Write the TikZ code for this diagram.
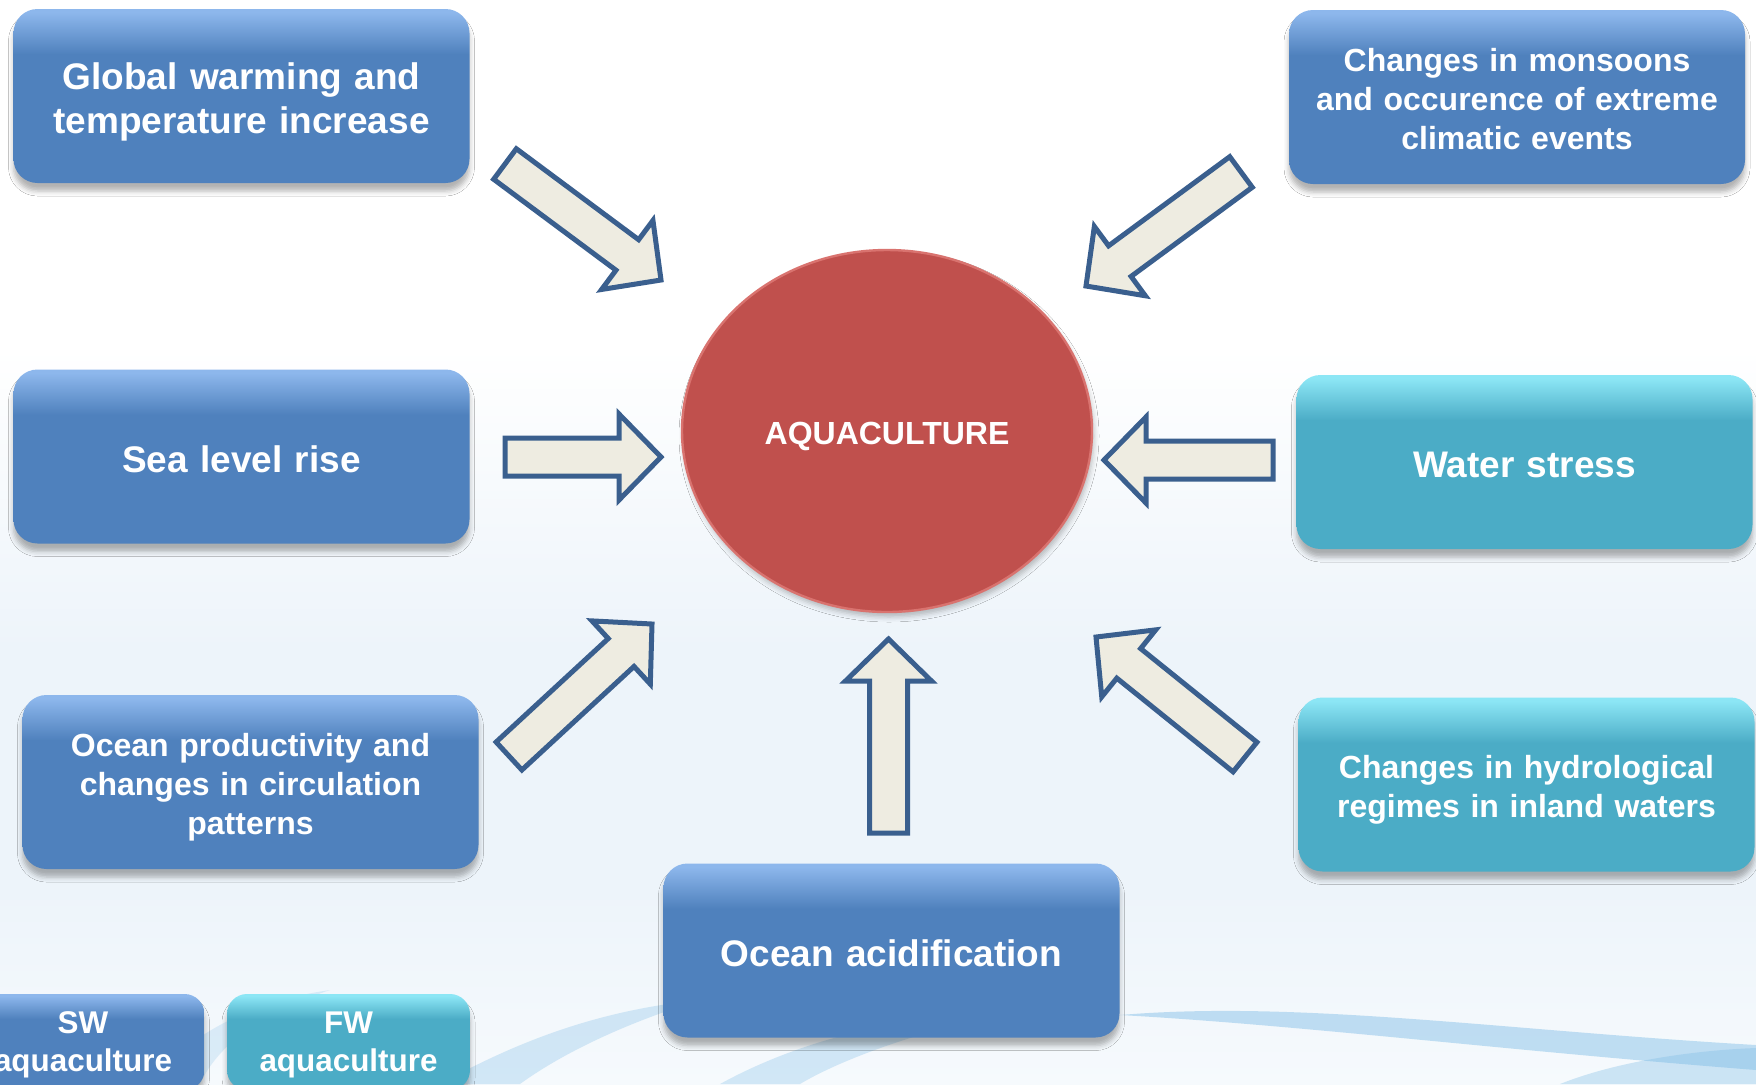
\documentclass[tikz,border=0pt]{standalone}
\usepackage{fontspec}
\setmainfont{Liberation Sans}
\usetikzlibrary{shapes.geometric,calc,shadows.blur}

\definecolor{boxblue}{HTML}{4F81BD}
\definecolor{boxblueL}{HTML}{8DB7EC}
\definecolor{boxteal}{HTML}{4BACC6}
\definecolor{boxtealL}{HTML}{8CE6F5}
\definecolor{circred}{HTML}{C0504D}
\definecolor{circedge}{HTML}{D9736F}
\definecolor{arrfill}{HTML}{EEECE1}
\definecolor{arrline}{HTML}{3A5F8E}
\definecolor{bgblue}{HTML}{EDF4FA}
\definecolor{bgbot}{HTML}{F6FAFD}
\definecolor{swoosh}{HTML}{7DBCE6}

\pgfdeclareverticalshading{blueshade}{100bp}{color(0bp)=(boxblue); color(25bp)=(boxblue);
  color(62bp)=(boxblue); color(74bp)=(boxblueL); color(100bp)=(boxblueL)}
\pgfdeclareverticalshading{tealshade}{100bp}{color(0bp)=(boxteal); color(25bp)=(boxteal);
  color(62bp)=(boxteal); color(74bp)=(boxtealL); color(100bp)=(boxtealL)}
\pgfdeclareverticalshading{bgshade}{100bp}{color(0bp)=(bgbot); color(25bp)=(bgbot);
  color(34bp)=(bgblue); color(45bp)=(bgblue); color(59bp)=(white); color(100bp)=(white)}

\newcommand\blockarrow[2]{%
  \coordinate (hb) at ($(#2)!21pt!(#1)$);
  \draw[arrowst] ($(#1)!9.5pt!90:(#2)$) -- ($(hb)!9.5pt!90:(#2)$) -- ($(hb)!21.5pt!90:(#2)$) -- (#2)
     -- ($(hb)!21.5pt!-90:(#2)$) -- ($(hb)!9.5pt!-90:(#2)$) -- ($(#1)!9.5pt!-90:(#2)$) -- cycle;}
\newcommand\strutht{1.06}
\newcommand\topstrut{\rule{0pt}{\strutht em}}
\newcommand\botstrut{\rule[-0.22em]{0pt}{0.22em}}
\newcommand\circbotstrut{\rule[-0.15em]{0pt}{0.15em}}

\begin{document}
\begin{tikzpicture}[x=0.5pt,y=-0.5pt,
  box/.style={rounded corners=12pt, minimum width=228pt, minimum height=87pt, text width=225pt,
    align=center, text=white, inner sep=0pt, font=\bfseries\fontsize{18.5}{22}\selectfont,
    execute at begin node=\topstrut, execute at end node=\botstrut,
    blur shadow={shadow xshift=0pt, shadow yshift=-4pt, shadow blur radius=2.5pt, shadow opacity=30}},
  smallfont/.style={font=\bfseries\fontsize{16}{19.3}\selectfont},
  bluebox/.style={box, shading=blueshade},
  tealbox/.style={box, shading=tealshade},
  tinybox/.style={minimum width=121.5pt, minimum height=48pt, text width=118pt, rounded corners=10pt,
    font=\bfseries\fontsize{15.7}{18.8}\selectfont, /utils/exec={\def\strutht{0.88}}},
  arrowst/.style={draw=arrline, fill=arrfill, line width=2.5pt, line join=miter},
]
\useasboundingbox (0,0) rectangle (1756,1084);
% background
\fill[shading=bgshade] (0,0) rectangle (1756,1084);
\fill[swoosh, opacity=0.3] (440,1084) .. controls (520,1040) and (600,1010) .. (700,1000)
   .. controls (620,1025) and (560,1055) .. (520,1084) -- cycle;
\fill[swoosh, opacity=0.3] (720,1084) .. controls (800,1040) and (900,1015) .. (1020,1010)
   .. controls (920,1030) and (840,1060) .. (800,1084) -- cycle;
\fill[swoosh, opacity=0.45] (1120,1015) .. controls (1300,1000) and (1500,1030) .. (1756,1045)
   -- (1756,1070) .. controls (1500,1050) and (1300,1025) .. (1120,1015) -- cycle;
\fill[swoosh, opacity=0.35] (1560,1084) .. controls (1620,1060) and (1700,1050) .. (1756,1048)
   -- (1756,1084) -- cycle;
\fill[swoosh, opacity=0.22] (150,1084) .. controls (190,1030) and (260,1000) .. (330,990)
   .. controls (270,1010) and (220,1040) .. (200,1084) -- cycle;

% boxes
\node[bluebox] (g1) at (241.5,96) {Global warming and\\temperature increase};
\node[bluebox, smallfont] (g2) at (1517,97) {Changes in monsoons\\and occurence of extreme\\climatic events};
\node[bluebox] (g3) at (241.5,456.5) {Sea level rise};
\node[tealbox] (g4) at (1524.5,462) {Water stress};
\node[bluebox, smallfont] (g5) at (250.5,782) {Ocean productivity and\\changes in circulation\\patterns};
\node[tealbox, smallfont] (g6) at (1526.5,784.5) {Changes in hydrological\\regimes in inland waters};
\node[bluebox] (g7) at (891.5,950.5) {Ocean acidification};
\node[bluebox, tinybox] (sw) at (83,1042) {SW\\aquaculture};
\node[tealbox, tinybox] (fw) at (348.5,1042) {FW\\aquaculture};

% center
\node[ellipse, minimum width=205pt, minimum height=181pt, inner sep=0pt, fill=circred,
  draw=circedge, line width=1.2pt, text=white, font=\bfseries\fontsize{16}{19}\selectfont,
  execute at begin node=\topstrut, execute at end node=\circbotstrut,
  blur shadow={shadow xshift=1pt, shadow yshift=-2.5pt, shadow blur radius=2.5pt, shadow opacity=25}]
  (aq) at (887,431) {AQUACULTURE};

% arrows
\coordinate (t1) at (505,164);   \coordinate (p1) at (661,280);
\coordinate (t2) at (1241,172);  \coordinate (p2) at (1086,286);
\coordinate (t3) at (505,457);   \coordinate (p3) at (661,457);
\coordinate (t4) at (1273,460);  \coordinate (p4) at (1104,460);
\coordinate (t5) at (509,756);   \coordinate (p5) at (652,624);
\coordinate (t6) at (888.5,833); \coordinate (p6) at (888.5,639);
\coordinate (t7) at (1245,757);  \coordinate (p7) at (1096,637);
\blockarrow{t1}{p1}
\blockarrow{t2}{p2}
\blockarrow{t3}{p3}
\blockarrow{t4}{p4}
\blockarrow{t5}{p5}
\blockarrow{t6}{p6}
\blockarrow{t7}{p7}
\end{tikzpicture}
\end{document}
